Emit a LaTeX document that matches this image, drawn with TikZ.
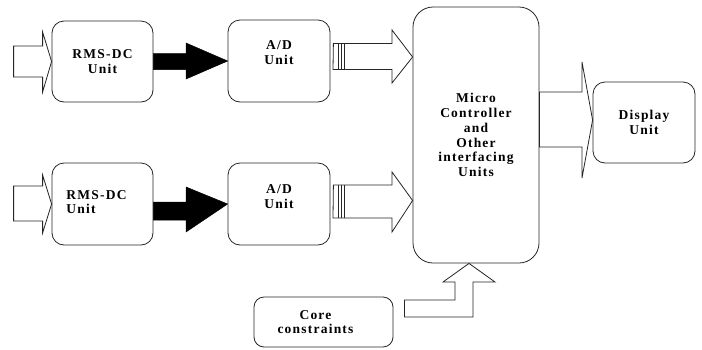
\documentclass[tikz,border=0pt]{standalone}
\usepackage{fontspec}
\setmainfont{Liberation Serif}[LetterSpace=9]
\usetikzlibrary{calc}
\begin{document}
\begin{tikzpicture}[x=1pt,y=-1pt,
  box/.style={draw=black!85,line width=0.8pt,rounded corners=12pt,fill=white,
    inner sep=0pt,align=center,font=\bfseries\fontsize{13.5}{14.8}\selectfont},
  blk/.style={draw=black!85,line width=0.8pt,fill=white,line join=miter},
  solidarrow/.style={fill=black,draw=black,line width=0.5pt},
  txt/.style={align=center,font=\bfseries\fontsize{13.5}{14.8}\selectfont}]
\useasboundingbox (0,0) rectangle (702,349);
\fill[white] (0,0) rectangle (702,349);
% boxes
\node[box,minimum width=101pt,minimum height=81pt] (r1) at (102.5,61.5) {RMS-DC\\Unit};
\node[box,minimum width=102pt,minimum height=82pt,label={[txt,yshift=8pt]center:A/D\\Unit}] (a1) at (279,61) {};
\node[box,minimum width=101pt,minimum height=82pt,label={[txt,align=left,xshift=-6pt,yshift=2pt]center:RMS-DC\\Unit}] (r2) at (102.5,204) {};
\node[box,minimum width=102pt,minimum height=82pt,label={[txt,yshift=7pt]center:A/D\\Unit}] (a2) at (279,204) {};
\node[box,rounded corners=20pt,minimum width=126pt,minimum height=256pt] (mc) at (476,135) {Micro\\Controller\\and\\Other\\interfacing\\Units};
\node[box,minimum width=102pt,minimum height=81pt] (dp) at (644,122.5) {Display\\Unit};
\node[box,rounded corners=10pt,minimum width=139pt,minimum height=50pt,label={[txt,xshift=-8pt]center:Core\\constraints}] (cc) at (323.5,322) {};
% input arrows
\coordinate (t1) at (r1.west);
\draw[blk] ($(t1)+(-38,-15.5)$) -- ($(t1)+(-9,-15.5)$) -- ($(t1)+(-9,-29.5)$) -- (t1)
  -- ($(t1)+(-9,30.5)$) -- ($(t1)+(-9,15.5)$) -- ($(t1)+(-38,15.5)$) -- cycle;
\coordinate (t2) at (r2.west);
\draw[blk] ($(t2)+(-38,-18)$) -- ($(t2)+(-9,-18)$) -- ($(t2)+(-9,-29)$) -- (t2)
  -- ($(t2)+(-9,29)$) -- ($(t2)+(-9,17)$) -- ($(t2)+(-38,17)$) -- cycle;
% black arrows
\draw[solidarrow] (r1.east |- 0,53.5) -- (186,53.5) -- (186,43) -- (a1.west)
  -- (186,79) -- (186,69.5) -- (r1.east |- 0,69.5) -- cycle;
\draw[solidarrow] (r2.east |- 0,202) -- (186,202) -- (186,187) -- (a2.west)
  -- (186,232) -- (186,220) -- (r2.east |- 0,220) -- cycle;
% striped arrows
\coordinate (s1) at ($(a1.east)+(3,-4.5)$);
\draw[blk] (s1) ++(0,-13) -- (392,43.5) -- (392,30) -- (mc.west |- 0,57) -- (392,83)
  -- (392,69.5) -- (333,69.5) -- cycle;
\draw[black!85,line width=0.8pt] (338.5,43.5) -- (338.5,69.5) (341,43.5) -- (341,69.5) (344.5,43.5) -- (344.5,69.5);
\coordinate (s2) at ($(a2.east)+(3,-2.5)$);
\draw[blk] (s2) ++(0,-16.5) -- (392,185) -- (392,172) -- (mc.west |- 0,200.5) -- (392,232)
  -- (392,218) -- (333,218) -- cycle;
\draw[black!85,line width=0.8pt] (338.5,185) -- (338.5,218) (341,185) -- (341,218) (344.5,185) -- (344.5,218);
% output arrow
\draw[blk] (mc.east |- 0,92) -- (582,92) -- (582,62) -- (dp.west |- 0,120) -- (582,178)
  -- (582,147) -- (mc.east |- 0,147) -- cycle;
% up arrow from core constraints
\draw[blk] ($(cc.east)+(11,-22)$) -- (455,300) -- (455,282) -- (443,282) -- (mc.south -| 469,0)
  -- (495,282) -- (473,282) -- (473,317) -- ($(cc.east)+(11,-5)$) -- cycle;
\end{tikzpicture}
\end{document}
